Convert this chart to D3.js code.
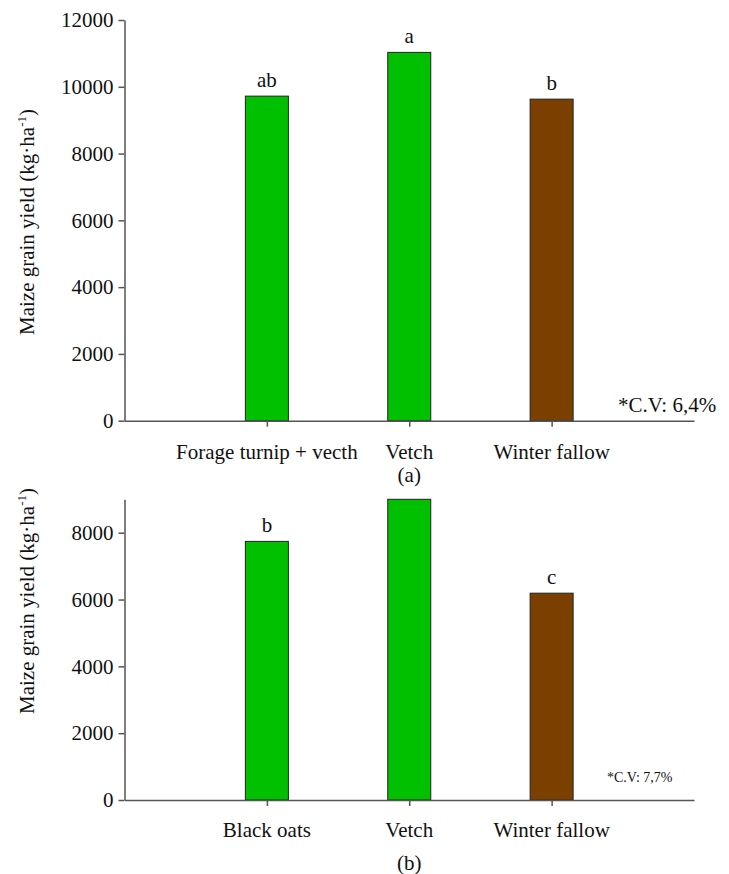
<!DOCTYPE html>
<html>
<head>
<meta charset="utf-8">
<script src="https://cdn.jsdelivr.net/npm/d3@7"></script>
<style>
  html, body { margin: 0; padding: 0; background: #fff; }
</style>
</head>
<body>
<svg id="chart" width="729" height="874"></svg>
<script>
// Panel (a): maize grain yield after winter cover crops
const categoriesA = ["Forage turnip + vecth", "Vetch", "Winter fallow"];
const yieldA = [9720, 11030, 9630];
const lettersA = ["ab", "a", "b"];
const ticksA = [0, 2000, 4000, 6000, 8000, 10000, 12000];

// Panel (b)
const categoriesB = ["Black oats", "Vetch", "Winter fallow"];
const yieldB = [7740, 9000, 6190];
const lettersB = ["b", "", "c"];
const ticksB = [0, 2000, 4000, 6000, 8000];

const fillColors = ["#00c000", "#00c000", "#7b3f00"];
const SERIF = "Liberation Serif";

const svg = d3.select("#chart");

function panel(opts) {
  const g = svg.append("g");
  const x = d3.scaleLinear().domain([0, 4]).range([124.5, 694]);
  const y = d3.scaleLinear().domain([0, opts.yMax]).range([opts.bottom, opts.top]).clamp(true);
  const barW = 43;

  // bars
  g.selectAll("rect.bar").data(opts.values).join("rect")
    .attr("class", "bar")
    .attr("x", (d, i) => x(i + 1) - barW / 2)
    .attr("y", d => y(d))
    .attr("width", barW)
    .attr("height", d => y(0) - y(d))
    .attr("fill", (d, i) => fillColors[i])
    .attr("stroke", "#222")
    .attr("stroke-width", 1);

  // significance letters
  g.selectAll("text.letter").data(opts.values).join("text")
    .attr("class", "letter")
    .attr("x", (d, i) => x(i + 1))
    .attr("y", d => y(d) - 9.5)
    .attr("text-anchor", "middle")
    .style("font-size", "21px")
    .text((d, i) => opts.letters[i]);

  // y axis
  const yAxis = g.append("g")
    .attr("transform", `translate(${x(0)},0)`)
    .call(d3.axisLeft(y).tickValues(opts.ticks).tickSize(6).tickPadding(5).tickSizeOuter(0).tickFormat(d3.format("d")));
  yAxis.attr("font-family", null);
  yAxis.selectAll("text").style("font-size", "21px");
  yAxis.selectAll("line, path").attr("stroke", "#555").attr("stroke-width", 1.5);

  // x axis
  const xAxis = g.append("g")
    .attr("transform", `translate(0,${y(0)})`)
    .call(d3.axisBottom(x).tickValues([1, 2, 3]).tickSize(6).tickSizeOuter(0).tickFormat(() => ""));
  xAxis.selectAll("line, path").attr("stroke", "#555").attr("stroke-width", 1.5);

  // category labels
  g.selectAll("text.cat").data(opts.categories).join("text")
    .attr("class", "cat")
    .attr("x", (d, i) => x(i + 1))
    .attr("y", opts.catY)
    .attr("text-anchor", "middle")
    .style("font-size", "21px")
    .text(d => d);

  // panel tag
  g.append("text")
    .attr("x", x(2))
    .attr("y", opts.tagY)
    .attr("text-anchor", "middle")
    .style("font-size", "21px")
    .text(opts.tag);

  // y axis title
  const t = g.append("text")
    .attr("transform", `translate(34,${opts.titleY}) rotate(-90)`)
    .attr("text-anchor", "middle")
    .style("font-size", "21px");
  t.append("tspan").text("Maize grain yield (kg·ha");
  t.append("tspan").style("font-size", "13px").attr("dy", -8).text("-1");
  t.append("tspan").attr("dy", 8).text(")");

  // coefficient of variation note
  g.append("text")
    .attr("x", opts.cvX)
    .attr("y", opts.cvY)
    .style("font-size", opts.cvSize + "px")
    .text(opts.cv);
}

panel({
  categories: categoriesA, values: yieldA, letters: lettersA, ticks: ticksA,
  yMax: 12000, top: 20, bottom: 420.7,
  catY: 459, tagY: 482, tag: "(a)", titleY: 222,
  cv: "*C.V: 6,4%", cvX: 618, cvY: 412, cvSize: 21
});

panel({
  categories: categoriesB, values: yieldB, letters: lettersB, ticks: ticksB,
  yMax: 9000, top: 499.3, bottom: 800,
  catY: 837, tagY: 870, tag: "(b)", titleY: 601,
  cv: "*C.V: 7,7%", cvX: 607, cvY: 782, cvSize: 14
});

// one serif face for every label
svg.selectAll("text")
  .style("font-family", SERIF)
  .style("fill", "#111");
</script>
</body>
</html>
